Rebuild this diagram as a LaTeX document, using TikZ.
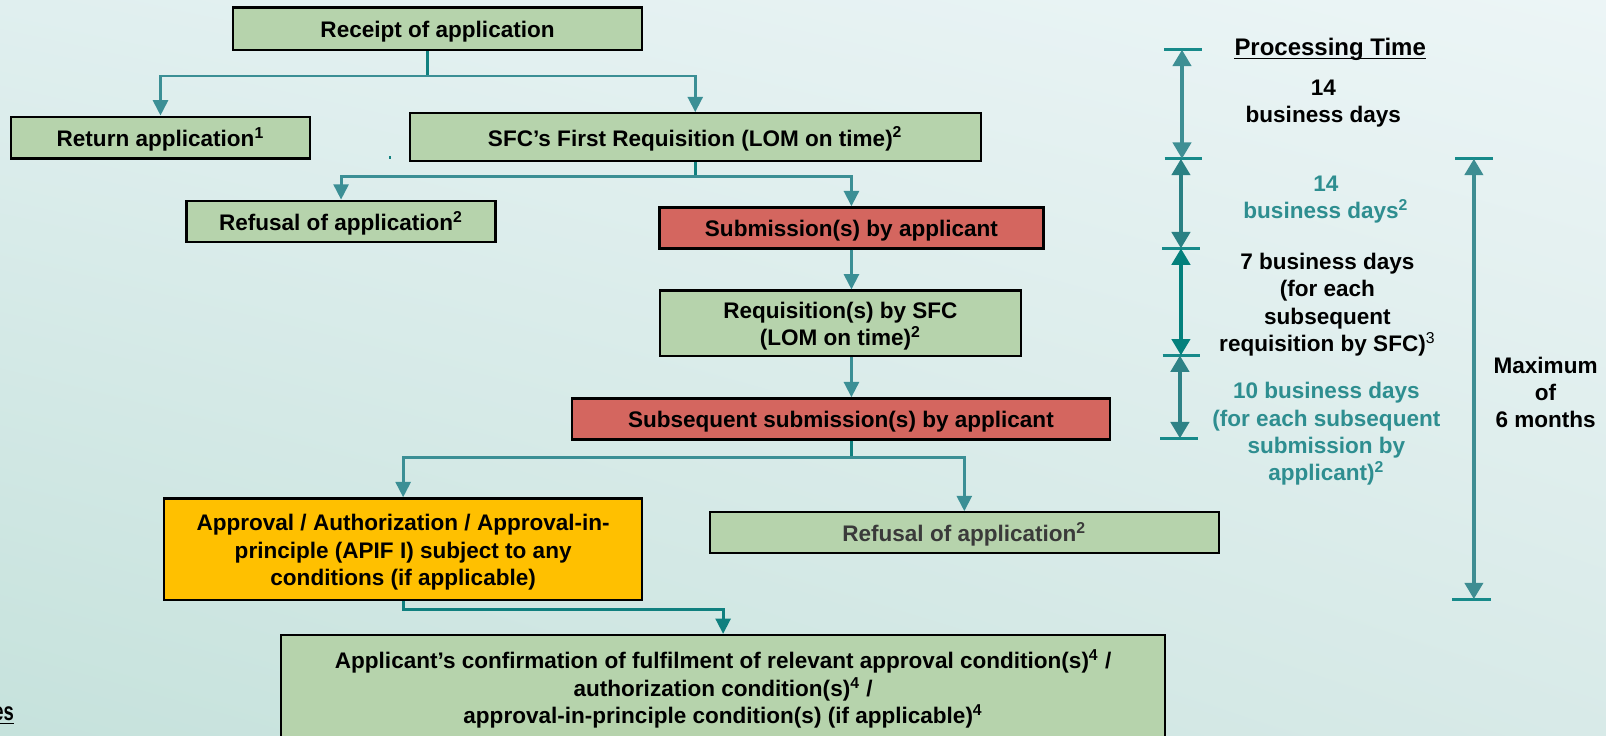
\documentclass[tikz,border=0pt]{standalone}
\usepackage{fontspec}
\setmainfont{Liberation Sans}
\usetikzlibrary{arrows.meta,shadings}
\definecolor{bgUL}{HTML}{E0EFEF}
\definecolor{bgUR}{HTML}{ECF5F6}
\definecolor{bgLL}{HTML}{C6E2DC}
\definecolor{bgLR}{HTML}{D8EAE8}
\definecolor{boxgreen}{HTML}{B6D3AC}
\definecolor{boxred}{HTML}{D4665F}
\definecolor{boxyellow}{HTML}{FFC000}
\definecolor{conn}{HTML}{3B8F95}
\definecolor{connd}{HTML}{10807F}
\definecolor{tealtext}{HTML}{2E8E90}
\definecolor{bargreen}{HTML}{178A8A}
\definecolor{graytext}{HTML}{3A3A3A}
\definecolor{vaA}{HTML}{3E8F94}
\definecolor{vaB}{HTML}{2A8083}
\definecolor{vaC}{HTML}{03807C}
\definecolor{vaD}{HTML}{2E8286}
\definecolor{vaE}{HTML}{3E8D92}
\newcommand\tup{\rule{0pt}{11pt}}
\begin{document}
\begin{tikzpicture}[x=0.5pt,y=-0.5pt,
  box/.style={draw=black,line width=1.1pt,inner sep=0pt,align=center,font=\fontsize{11}{13.3}\selectfont\bfseries},
  lbl/.style={inner sep=0pt,align=center,font=\fontsize{11}{13.3}\selectfont\bfseries},
  arr/.style={draw=conn,line width=1.4pt,-{Triangle[width=7.3pt,length=7.5pt]}},
  arrd/.style={draw=connd,line width=1.4pt,-{Triangle[width=7.3pt,length=7.5pt]}},
  stem/.style={draw=connd,line width=1.4pt},
  darr/.style={line width=2pt,{Triangle[width=8.8pt,length=8pt]}-{Triangle[width=8.8pt,length=8pt]}},
  tbar/.style={draw=bargreen,line width=1.5pt}]
\useasboundingbox (0,0) rectangle (1568,718);
\clip (0,0) rectangle (1568,718);
\shade[upper left=bgUL,upper right=bgUR,lower left=bgLL,lower right=bgLR] (0,0) rectangle (1568,718);

% boxes
\node[box,fill=boxgreen,minimum width=199.6pt,minimum height=20.8pt] (rec) at (427.2,28) {\tup Receipt of application};
\node[box,fill=boxgreen,minimum width=145.8pt,minimum height=20.4pt] (ret) at (156.7,134.3) {\tup Return application\textsuperscript{1}};
\node[box,fill=boxgreen,minimum width=278.7pt,minimum height=23.3pt] (sfc) at (678.8,133.9) {\tup SFC’s First Requisition (LOM on time)\textsuperscript{2}};
\node[box,fill=boxgreen,minimum width=150.8pt,minimum height=20pt] (refa) at (333,216) {\tup Refusal of application\textsuperscript{2}};
\node[box,fill=boxred,minimum width=187.4pt,minimum height=20pt] (sub) at (831.3,222.5) {\tup Submission(s) by applicant};
\node[box,fill=boxgreen,minimum width=176pt,minimum height=31.8pt] (req) at (820.5,315.5) {\tup Requisition(s) by SFC\\(LOM on time)\textsuperscript{2}};
\node[box,fill=boxred,minimum width=262.8pt,minimum height=20pt] (ssub) at (821,409) {\tup Subsequent submission(s) by applicant};
\node[box,fill=boxyellow,minimum width=233.2pt,minimum height=49.6pt] (yel) at (393.6,536.2) {\tup Approval / Authorization / Approval-in-\\principle (APIF I) subject to any\\conditions (if applicable)};
\node[box,fill=boxgreen,text=graytext,minimum width=248.5pt,minimum height=20pt] (refb) at (941.5,520.2) {\tup Refusal of application\textsuperscript{2}};
\node[box,fill=boxgreen,minimum width=431.5pt,minimum height=51pt] (app) at (706,671) {\tup Applicant’s confirmation of fulfilment of relevant approval condition(s)\textsuperscript{4} /\\authorization condition(s)\textsuperscript{4} /\\approval-in-principle condition(s) (if applicable)\textsuperscript{4}};

% connectors
\coordinate (j1) at (417.6,74.2);
\draw[stem] (rec.south -| j1) -- (j1);
\draw[arr] (j1) -| (ret.north);
\draw[arr] (j1) -| (sfc.north);
\coordinate (j2) at (678.6,172.5);
\draw[stem] (sfc.south) -- (sfc.south |- j2);
\draw[arr] (sfc.south |- j2) -| (refa.north);
\draw[arr] (sfc.south |- j2) -| (sub.north);
\draw[arr] (sub.south) -- (sub.south |- req.north);
\draw[arr] (req.south -| sub.south) -- (ssub.north -| sub.south);
\coordinate (j3) at (831.3,447);
\draw[stem] (ssub.south -| j3) -- (j3);
\draw[arr] (j3) -| (yel.north);
\draw[arr] (j3) -| (refb.north);
\coordinate (j4) at (393.6,595);
\draw[arrd] (yel.south) -- (j4) -| (app.north);
\fill[connd] (380,152.3) rectangle (381.8,155.2);

% processing time column
\node[lbl,font=\fontsize{11.7}{14}\selectfont\bfseries] (pt) at (1298.7,48) {Processing Time};
\draw[line width=0.6pt] ([yshift=-1.6pt]pt.base west) -- ([yshift=-1.6pt]pt.base east);
\node[lbl] (t1) at (1292,97.6) {\tup 14\\business days};
\node[lbl,text=tealtext] (t2) at (1294.6,191.2) {\tup 14\\business days\textsuperscript{2}};
\node[lbl] (t3) at (1296,294.4) {\tup 7 business days\\(for each\\subsequent\\requisition by SFC)\textsuperscript{\mdseries 3}};
\node[lbl,text=tealtext] (t4) at (1295,420.7) {\tup 10 business days\\(for each subsequent\\submission by\\applicant)\textsuperscript{2}};
\node[lbl] (t5) at (1509,383.1) {Maximum\\of\\6 months};

\draw[tbar] (1136.5,48.5) -- (1173.5,48.5);
\draw[tbar] (1137,155) -- (1174,155);
\draw[tbar] (1134.6,242.5) -- (1172,242.5);
\draw[tbar] (1135,347) -- (1172,347);
\draw[tbar] (1132.6,428) -- (1169.7,428);
\draw[tbar] (1421,155) -- (1458,155);
\draw[tbar] (1418,585) -- (1455.5,585);
\draw[darr,draw=vaA] (1154,48.5) -- (1154,155);
\draw[darr,draw=vaB] (1153,155) -- (1153,242.5);
\draw[darr,draw=vaC] (1153,242.5) -- (1153,347);
\draw[darr,draw=vaD] (1152,347) -- (1152,428);
\draw[darr,draw=vaE] (1439,155) -- (1439,585);

\node[anchor=base east,inner sep=0pt,font=\fontsize{12.5}{15}\selectfont\bfseries] (notes) at (14,703) {\scalebox{0.72}[1]{\underline{Notes}}};
\end{tikzpicture}
\end{document}
